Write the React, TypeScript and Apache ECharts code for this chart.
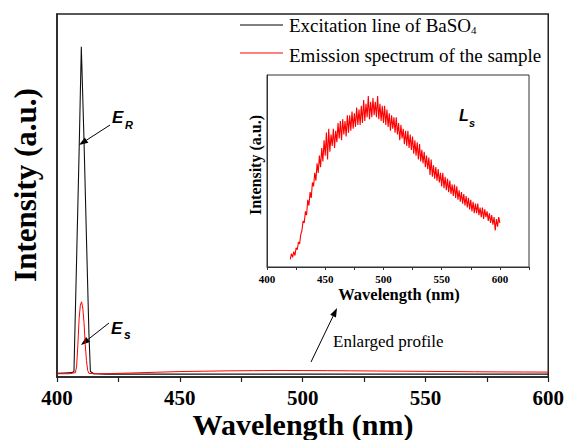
import React, { useEffect, useRef } from 'react';
import * as echarts from 'echarts';

const excitationName = 'Excitation line of BaSO4';
const emissionName = 'Emission spectrum of the sample';

// Main panel: excitation line of BaSO4 (black)
const excWavelength = [400, 403, 406, 406.9, 408, 409, 409.9, 411, 412, 413, 413.6, 415, 420, 450, 500, 550, 600];
const excIntensity = [0.01, 0.011, 0.012, 0.015, 0.33, 0.62, 0.91, 0.65, 0.38, 0.12, 0.015, 0.009, 0.008, 0.008, 0.008, 0.008, 0.008];

// Main panel: emission spectrum of the sample (red)
const emWavelength = [400, 405, 407.5, 408, 408.5, 409, 409.5, 410, 410.5, 411, 411.5, 412, 412.5, 413, 415, 420, 430, 440, 450, 460, 470, 480, 490, 500, 510, 520, 530, 540, 550, 560, 570, 580, 590, 600];
const emIntensity = [0.009, 0.009, 0.012, 0.03, 0.09, 0.16, 0.198, 0.207, 0.19, 0.15, 0.09, 0.045, 0.018, 0.01, 0.009, 0.009, 0.011, 0.013, 0.015, 0.016, 0.017, 0.0175, 0.018, 0.0178, 0.0175, 0.017, 0.0165, 0.016, 0.0155, 0.015, 0.0145, 0.014, 0.0138, 0.0135];

// Inset: enlarged emission profile L_s, 1 nm steps from 420 nm
const insetStart = 420;
const insetIntensity = [
  0.04, 0.07, 0.05, 0.08, 0.06, 0.10, 0.09, 0.13, 0.12, 0.17,
  0.19, 0.24, 0.23, 0.29, 0.27, 0.35, 0.32, 0.39, 0.36, 0.44,
  0.42, 0.49, 0.45, 0.54, 0.49, 0.58, 0.52, 0.62, 0.55, 0.66,
  0.58, 0.70, 0.56, 0.72, 0.60, 0.69, 0.63, 0.72, 0.62, 0.71,
  0.65, 0.75, 0.67, 0.76, 0.66, 0.77, 0.69, 0.76, 0.68, 0.79,
  0.70, 0.79, 0.71, 0.81, 0.72, 0.80, 0.73, 0.83, 0.74, 0.82,
  0.74, 0.84, 0.75, 0.87, 0.76, 0.85, 0.78, 0.89, 0.77, 0.86,
  0.78, 0.88, 0.79, 0.86, 0.78, 0.89, 0.77, 0.85, 0.76, 0.84,
  0.75, 0.84, 0.74, 0.82, 0.73, 0.80, 0.71, 0.79, 0.72, 0.78,
  0.70, 0.78, 0.69, 0.75, 0.66, 0.74, 0.67, 0.72, 0.64, 0.71,
  0.63, 0.71, 0.62, 0.69, 0.61, 0.68, 0.59, 0.66, 0.58, 0.65,
  0.56, 0.64, 0.55, 0.61, 0.54, 0.60, 0.52, 0.58, 0.51, 0.57,
  0.48, 0.56, 0.47, 0.53, 0.46, 0.52, 0.45, 0.51, 0.44, 0.49,
  0.42, 0.49, 0.41, 0.47, 0.40, 0.46, 0.39, 0.45, 0.38, 0.43,
  0.37, 0.43, 0.36, 0.42, 0.35, 0.40, 0.34, 0.39, 0.33, 0.38,
  0.32, 0.37, 0.31, 0.36, 0.30, 0.35, 0.29, 0.34, 0.28, 0.33,
  0.28, 0.33, 0.27, 0.31, 0.26, 0.31, 0.25, 0.30, 0.26, 0.29,
  0.24, 0.28, 0.23, 0.27, 0.22, 0.26, 0.19, 0.25, 0.21, 0.26,
  0.23,
];

const SERIF = 'Liberation Serif';
const SANS = 'Liberation Sans';
const AXIS = '#222';

function txt(x: number, y: number, text: string, size: number, opts: any = {}) {
  return {
    type: 'text', x, y, rotation: opts.rotation || 0,
    style: {
      text, fontSize: size, fontFamily: opts.family || SERIF,
      fontWeight: opts.weight || 'normal', fontStyle: opts.style || 'normal',
      fill: '#000', align: opts.align || 'left', verticalAlign: 'middle',
      rich: opts.rich,
    },
  };
}

function arrow(x1: number, y1: number, x2: number, y2: number) {
  const dx = x2 - x1, dy = y2 - y1;
  const len = Math.hypot(dx, dy);
  const ux = dx / len, uy = dy / len;
  const hl = 9, hw = 3.2;
  const bx = x2 - ux * hl, by = y2 - uy * hl;
  const px = -uy * hw, py = ux * hw;
  return [
    { type: 'line', shape: { x1, y1, x2: bx, y2: by }, style: { stroke: '#000', lineWidth: 1 } },
    { type: 'polygon', shape: { points: [[x2, y2], [bx + px, by + py], [bx - px, by - py]] }, style: { fill: '#000' } },
  ];
}

export default function App() {
  const ref = useRef<HTMLDivElement>(null);
  useEffect(() => {
    document.body.style.margin = '0';
    const chart = echarts.init(ref.current!, null, { renderer: 'svg' });
    const excData = excWavelength.map((w, i) => [w, excIntensity[i]]);
    const emData = emWavelength.map((w, i) => [w, emIntensity[i]]);
    const insetData = insetIntensity.map((v, i) => [insetStart + i, v]);
    const labelStyle = (size: number, margin: number) => ({
      formatter: (v: number) => (v % 50 === 0 ? String(v) : ''),
      fontFamily: SERIF, fontWeight: 'bold', fontSize: size, color: '#000', margin,
    });
    chart.setOption({
      animation: false,
      backgroundColor: '#fff',
      grid: [
        { left: 57, top: 14, width: 493, height: 363, show: true, borderColor: AXIS, borderWidth: 1.5, backgroundColor: 'transparent' },
        { left: 267, top: 75, width: 262, height: 192, show: true, borderColor: '#333', borderWidth: 1, backgroundColor: '#fff' },
      ],
      xAxis: [
        {
          type: 'value', gridIndex: 0, min: 400, max: 600, interval: 25,
          axisLine: { lineStyle: { color: AXIS, width: 1.5 } },
          axisTick: { inside: false, length: 5, lineStyle: { color: AXIS, width: 1.2 } },
          axisLabel: labelStyle(21, 10),
          splitLine: { show: false },
        },
        {
          type: 'value', gridIndex: 1, min: 400, max: 625, interval: 25,
          axisLine: { lineStyle: { color: '#333', width: 1 } },
          axisTick: { inside: false, length: 3, lineStyle: { color: '#333', width: 1 } },
          axisLabel: labelStyle(11, 6.5),
          splitLine: { show: false },
        },
      ],
      yAxis: [
        {
          type: 'value', gridIndex: 0, min: 0, max: 1,
          axisLine: { show: true, lineStyle: { color: AXIS, width: 1.5 } },
          axisTick: { show: false }, axisLabel: { show: false }, splitLine: { show: false },
        },
        {
          type: 'value', gridIndex: 1, min: 0, max: 1,
          axisLine: { show: true, lineStyle: { color: '#333', width: 1 } },
          axisTick: { show: false }, axisLabel: { show: false }, splitLine: { show: false },
        },
      ],
      series: [
        {
          name: excitationName, type: 'line', xAxisIndex: 0, yAxisIndex: 0, data: excData,
          symbol: 'none', showSymbol: false, z: 2,
          lineStyle: { color: '#111', width: 1.1 }, itemStyle: { color: '#000' },
        },
        {
          name: emissionName, type: 'line', xAxisIndex: 0, yAxisIndex: 0, data: emData,
          symbol: 'none', showSymbol: false, z: 3,
          lineStyle: { color: '#ff0000', width: 1 }, itemStyle: { color: '#ff0000' },
        },
        {
          name: 'Ls', type: 'line', xAxisIndex: 1, yAxisIndex: 1, data: insetData,
          symbol: 'none', showSymbol: false, z: 4,
          lineStyle: { color: '#ff0000', width: 1.1 }, itemStyle: { color: '#ff0000' },
        },
      ],
      graphic: [
        // legend
        { type: 'line', shape: { x1: 240, y1: 25, x2: 283, y2: 25 }, style: { stroke: '#000', lineWidth: 1 } },
        txt(289, 25.5, '{n|Excitation line of BaSO}{s|4}', 19, {
          rich: {
            n: { fontFamily: SERIF, fontSize: 19, fill: '#000' },
            s: { fontFamily: SERIF, fontSize: 11, fill: '#000', padding: [9, 0, 0, 0] },
          },
        }),
        { type: 'line', shape: { x1: 240, y1: 53, x2: 283, y2: 53 }, style: { stroke: '#ff0000', lineWidth: 1 } },
        txt(289, 55, emissionName, 19),
        // axis names
        txt(303, 424, 'Wavelength (nm)', 30, { weight: 'bold', align: 'center' }),
        txt(25, 185, 'Intensity (a.u.)', 31, { weight: 'bold', align: 'center', rotation: Math.PI / 2 }),
        txt(399, 294.2, 'Wavelength (nm)', 16.5, { weight: 'bold', align: 'center' }),
        txt(255.5, 165, 'Intensity (a.u.)', 16, { weight: 'bold', align: 'center', rotation: Math.PI / 2 }),
        // annotations
        txt(112, 117, 'E', 17, { family: SANS, weight: 'bold', style: 'italic' }),
        txt(125, 124.5, 'R', 11, { family: SANS, weight: 'bold', style: 'italic' }),
        txt(111, 328, 'E', 17, { family: SANS, weight: 'bold', style: 'italic' }),
        txt(124, 335, 's', 12, { family: SANS, weight: 'bold', style: 'italic' }),
        txt(459, 115, 'L', 16, { family: SANS, weight: 'bold', style: 'italic' }),
        txt(469, 123, 's', 11, { family: SANS, weight: 'bold', style: 'italic' }),
        txt(333, 341, 'Enlarged profile', 17),
        ...arrow(110, 125, 79, 145),
        ...arrow(109, 323, 81, 345),
        ...arrow(311, 362, 337, 308),
      ],
    });
    return () => chart.dispose();
  }, []);
  return <div ref={ref} style={{ width: 567, height: 440 }} />;
}
